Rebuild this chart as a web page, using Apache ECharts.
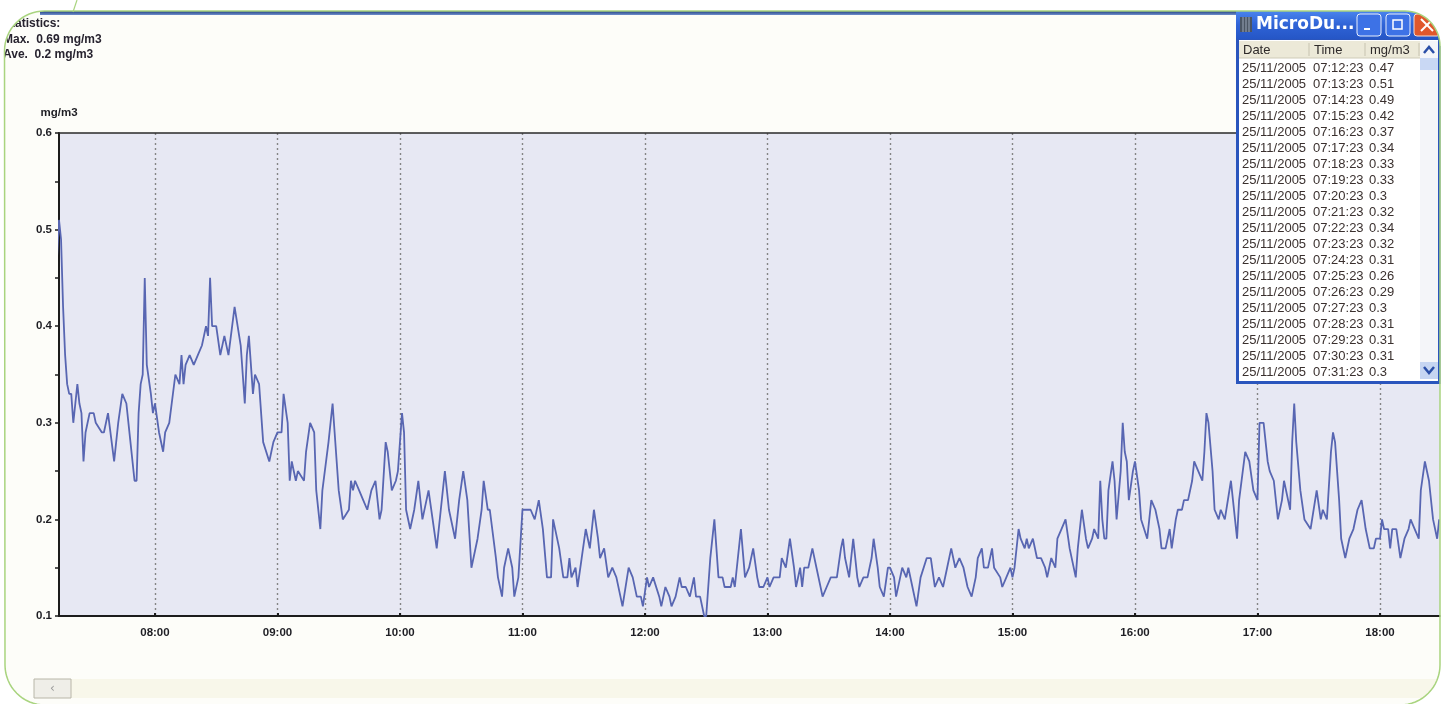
<!DOCTYPE html>
<html><head><meta charset="utf-8">
<script src="https://cdn.jsdelivr.net/npm/echarts@6/dist/echarts.min.js"></script>
<style>html,body{margin:0;padding:0;background:#fff}#c{width:1450px;height:704px}</style>
</head><body><div id="c"></div>
<script>
// ---------- data ----------
const xTickLabels = ['08:00','09:00','10:00','11:00','12:00','13:00','14:00','15:00','16:00','17:00','18:00'];
const yAxisName = 'mg/m3';
const statLines = ['Statistics:', 'Max.  0.69 mg/m3', 'Ave.  0.2 mg/m3'];
const windowTitle = 'MicroDu...';
const tableHeader = ['Date', 'Time', 'mg/m3'];
const tableDate = '25/11/2005';
const tableTimes = ['07:12:23','07:13:23','07:14:23','07:15:23','07:16:23','07:17:23','07:18:23','07:19:23','07:20:23','07:21:23',
  '07:22:23','07:23:23','07:24:23','07:25:23','07:26:23','07:27:23','07:28:23','07:29:23','07:30:23','07:31:23'];
const tableValues = [0.47,0.51,0.49,0.42,0.37,0.34,0.33,0.33,0.3,0.32,0.34,0.32,0.31,0.26,0.29,0.3,0.31,0.31,0.31,0.3];

const seriesTimes = [
 '07:12','07:13','07:14','07:15','07:16','07:17','07:18','07:19','07:20','07:21','07:22','07:23','07:24','07:25','07:26','07:27','07:28','07:29','07:30','07:31',
 '07:34','07:35','07:37','07:40','07:42','07:44','07:46','07:48','07:50','07:51','07:52','07:53','07:54','07:55','07:56','07:58','07:59',
 '08:00','08:02','08:04','08:05','08:07','08:10','08:12','08:13','08:14','08:15','08:17','08:19','08:21','08:23','08:24','08:25','08:26','08:27','08:28','08:29',
 '08:30','08:32','08:34','08:36','08:39','08:42','08:44','08:45','08:46','08:48','08:49','08:51','08:53','08:56','08:58',
 '09:00','09:02','09:03','09:05','09:06','09:07','09:09','09:10','09:13','09:14','09:16','09:18','09:19','09:21','09:22','09:25','09:27','09:28',
 '09:30','09:32','09:35','09:36','09:37','09:38','09:40','09:42','09:44','09:46','09:48','09:50','09:51','09:53','09:54','09:56','09:58','09:59',
 '10:01','10:02','10:03','10:05','10:07','10:09','10:11','10:14','10:16','10:18','10:20','10:22','10:24','10:26','10:27','10:29',
 '10:31','10:33','10:35','10:38','10:40','10:41','10:43','10:44','10:47','10:48','10:50','10:51','10:53','10:55','10:56','10:58',
 '11:00','11:03','11:04','11:06','11:08','11:10','11:12','11:14','11:15','11:18','11:20','11:22','11:23','11:24','11:26','11:27','11:29',
 '11:31','11:33','11:35','11:37','11:38','11:40','11:42','11:44','11:46','11:48','11:49','11:52','11:54','11:56','11:58','11:59',
 '12:01','12:02','12:04','12:07','12:08','12:10','12:12','12:13','12:15','12:17','12:18','12:20','12:22','12:24','12:25','12:27','12:29',
 '12:30','12:32','12:34','12:36','12:38','12:39','12:42','12:43','12:44','12:47','12:49','12:51','12:53','12:55','12:56','12:58',
 '13:00','13:01','13:03','13:06','13:07','13:09','13:11','13:13','13:14','13:16','13:17','13:18','13:20','13:22','13:24','13:27','13:29',
 '13:31','13:34','13:36','13:37','13:38','13:40','13:42','13:44','13:45','13:47','13:49','13:51','13:52','13:54','13:55','13:57','13:59',
 '14:00','14:02','14:03','14:05','14:06','14:08','14:09','14:11','14:13','14:15','14:18','14:20','14:22','14:24','14:26','14:28',
 '14:30','14:32','14:34','14:36','14:38','14:40','14:42','14:43','14:45','14:46','14:48','14:50','14:51','14:54','14:55','14:57','14:59',
 '15:00','15:01','15:03','15:04','15:06','15:07','15:08','15:10','15:12','15:14','15:16','15:17','15:19','15:21','15:22','15:24','15:26','15:28',
 '15:31','15:32','15:34','15:36','15:37','15:39','15:40','15:42','15:43','15:44','15:45','15:46','15:47','15:49','15:50','15:51','15:53','15:54','15:55','15:56','15:57','15:59',
 '16:00','16:02','16:03','16:06','16:08','16:10','16:12','16:13','16:15','16:17','16:18','16:20','16:21','16:23','16:24','16:26','16:28','16:29',
 '16:31','16:33','16:34','16:35','16:36','16:38','16:39','16:41','16:42','16:44','16:47','16:48','16:50','16:51','16:54','16:56','16:58',
 '17:00','17:01','17:03','17:05','17:06','17:08','17:10','17:12','17:13','17:15','17:16','17:17','17:18','17:19','17:21','17:23','17:26','17:29',
 '17:31','17:32','17:34','17:36','17:37','17:38','17:40','17:41','17:43','17:45','17:47','17:49','17:51','17:53','17:55','17:57','17:58',
 '18:00','18:01','18:02','18:04','18:05','18:06','18:08','18:10','18:12','18:14','18:15','18:17','18:19','18:20','18:22','18:24','18:26','18:28','18:29'
];
const seriesValues = [
 0.47,0.51,0.49,0.42,0.37,0.34,0.33,0.33,0.30,0.32,0.34,0.32,0.31,0.26,0.29,0.30,0.31,0.31,0.31,0.30,
 0.29,0.29,0.31,0.26,0.30,0.33,0.32,0.28,0.24,0.24,0.31,0.34,0.35,0.45,0.36,0.33,0.31,
 0.32,0.29,0.27,0.29,0.30,0.35,0.34,0.37,0.34,0.36,0.37,0.36,0.37,0.38,0.39,0.40,0.39,0.45,0.40,0.40,
 0.40,0.37,0.39,0.37,0.42,0.38,0.32,0.37,0.39,0.33,0.35,0.34,0.28,0.26,0.28,
 0.29,0.29,0.33,0.30,0.24,0.26,0.24,0.25,0.24,0.27,0.30,0.29,0.23,0.19,0.23,0.28,0.32,0.29,
 0.23,0.20,0.21,0.24,0.23,0.24,0.23,0.22,0.21,0.23,0.24,0.20,0.21,0.28,0.27,0.23,0.24,0.25,
 0.31,0.29,0.21,0.19,0.21,0.24,0.20,0.23,0.20,0.17,0.21,0.25,0.21,0.19,0.18,0.22,
 0.25,0.22,0.15,0.18,0.21,0.24,0.21,0.21,0.16,0.14,0.12,0.15,0.17,0.15,0.12,0.14,
 0.21,0.21,0.21,0.20,0.22,0.19,0.14,0.14,0.20,0.17,0.14,0.14,0.16,0.14,0.15,0.13,0.16,
 0.19,0.17,0.21,0.18,0.16,0.17,0.14,0.15,0.14,0.12,0.11,0.15,0.14,0.12,0.12,0.11,
 0.14,0.13,0.14,0.12,0.11,0.13,0.12,0.11,0.12,0.14,0.13,0.13,0.12,0.14,0.12,0.12,0.10,
 0.10,0.16,0.20,0.14,0.14,0.13,0.13,0.14,0.13,0.19,0.14,0.15,0.17,0.14,0.13,0.13,
 0.14,0.13,0.14,0.14,0.16,0.15,0.18,0.15,0.13,0.15,0.13,0.15,0.15,0.17,0.15,0.12,0.13,
 0.14,0.14,0.17,0.18,0.16,0.14,0.18,0.14,0.13,0.14,0.14,0.16,0.18,0.15,0.13,0.12,0.15,
 0.15,0.14,0.12,0.14,0.15,0.14,0.15,0.13,0.11,0.14,0.16,0.16,0.13,0.14,0.13,0.15,
 0.17,0.15,0.16,0.15,0.13,0.12,0.14,0.16,0.17,0.15,0.15,0.17,0.15,0.14,0.13,0.14,0.15,
 0.14,0.15,0.19,0.18,0.17,0.18,0.17,0.18,0.16,0.16,0.15,0.14,0.16,0.15,0.18,0.19,0.20,0.17,
 0.14,0.17,0.21,0.18,0.17,0.18,0.19,0.18,0.24,0.20,0.18,0.18,0.23,0.26,0.24,0.20,0.25,0.30,0.27,0.26,0.22,0.25,
 0.26,0.23,0.20,0.18,0.22,0.21,0.19,0.17,0.17,0.19,0.17,0.20,0.21,0.21,0.22,0.22,0.24,0.26,
 0.25,0.24,0.27,0.31,0.30,0.25,0.21,0.20,0.21,0.20,0.24,0.22,0.18,0.22,0.27,0.26,0.23,
 0.22,0.30,0.30,0.26,0.25,0.24,0.20,0.22,0.24,0.22,0.21,0.28,0.32,0.28,0.23,0.20,0.19,0.23,
 0.20,0.21,0.20,0.27,0.29,0.28,0.22,0.18,0.16,0.18,0.19,0.21,0.22,0.19,0.17,0.17,0.18,
 0.18,0.20,0.19,0.19,0.17,0.19,0.19,0.16,0.18,0.19,0.20,0.19,0.18,0.23,0.26,0.24,0.20,0.18,0.20
];

// ---------- build ----------
const toMin = s => { const p = s.split(':').map(Number); return p[0] * 60 + p[1]; };
const xTickValues = xTickLabels.map(toMin);
const lineData = seriesTimes.map((t, i) => [toMin(t), seriesValues[i]]);
const pad2 = n => (n < 10 ? '0' : '') + n;
const fmtMin = v => pad2(Math.floor(v / 60)) + ':' + pad2(Math.round(v % 60));

const LBL = { fontFamily: '"Liberation Sans", Arial, sans-serif', fontWeight: 'bold', fontSize: 11.5, color: '#1e1e24' };
const TFONT = '13px "Liberation Sans", Arial, sans-serif';
const X_MIN = 433, X_MAX = 1109.4;

function arcPts(cx, cy, r, a0, a1) {
  const pts = [], n = 16;
  for (let k = 0; k <= n; k++) { const a = (a0 + (a1 - a0) * k / n) * Math.PI / 180; pts.push([cx + r * Math.cos(a), cy + r * Math.sin(a)]); }
  return pts;
}

const G = [];
statLines.forEach((s, i) => G.push({ type: 'text', x: 3, y: [24, 40, 55][i], z: 20,
  style: { text: s, font: 'bold 12px "Liberation Sans", Arial, sans-serif', fill: '#27232f', textVerticalAlign: 'middle' } }));
// bottom scrollbar
G.push({ type: 'rect', z: 10, shape: { x: 34, y: 679, width: 1406, height: 19 }, style: { fill: '#f8f7ea' } });
G.push({ type: 'rect', z: 11, shape: { x: 34, y: 679, width: 37, height: 19 }, style: { fill: '#efeee8', stroke: '#b8b6a8', lineWidth: 1 } });
G.push({ type: 'text', z: 12, x: 50, y: 689, style: { text: '‹', font: '12px "DejaVu Sans"', fill: '#9a9a9a', textVerticalAlign: 'middle' } });
// top blue bar
G.push({ type: 'rect', z: 30, shape: { x: 40, y: 11, width: 1198, height: 4 },
  style: { fill: new echarts.graphic.LinearGradient(0, 0, 0, 1, [{ offset: 0, color: '#1f3c7e' }, { offset: 1, color: '#6f8fcc' }]) } });
// popup window
const PX = 1236, PY = 11, PW = 205, PH = 373;
G.push({ type: 'rect', z: 40, shape: { x: PX, y: PY, width: PW, height: PH }, style: { fill: '#2a55bd' } });
G.push({ type: 'rect', z: 41, shape: { x: PX, y: PY, width: PW, height: 28 },
  style: { fill: new echarts.graphic.LinearGradient(0, 0, 0, 1, [{ offset: 0, color: '#4a84ee' }, { offset: 0.5, color: '#2f63d6' }, { offset: 1, color: '#2556c6' }]) } });
G.push({ type: 'rect', z: 41, shape: { x: PX + 3, y: 40, width: PW - 6, height: PH - 32 }, style: { fill: '#ffffff' } });
G.push({ type: 'rect', z: 42, shape: { x: 1240, y: 17, width: 12, height: 15 }, style: { fill: '#4b5563' } });
[1243, 1246, 1249].forEach(x => G.push({ type: 'line', z: 43, shape: { x1: x, y1: 17, x2: x, y2: 32 }, style: { stroke: '#9aa6b8', lineWidth: 1 } }));
G.push({ type: 'text', z: 42, x: 1256, y: 25, style: { text: windowTitle, font: 'bold 17px "DejaVu Sans"', fill: '#ffffff', textVerticalAlign: 'middle' } });
G.push({ type: 'rect', z: 42, shape: { x: 1357, y: 14, width: 24, height: 22, r: 3 }, style: { fill: '#3d72e6', stroke: '#e8eefc', lineWidth: 1 } });
G.push({ type: 'line', z: 43, shape: { x1: 1364, y1: 29, x2: 1370, y2: 29 }, style: { stroke: '#ffffff', lineWidth: 2 } });
G.push({ type: 'rect', z: 42, shape: { x: 1386, y: 14, width: 24, height: 22, r: 3 }, style: { fill: '#3d72e6', stroke: '#e8eefc', lineWidth: 1 } });
G.push({ type: 'rect', z: 43, shape: { x: 1393, y: 20, width: 9, height: 9 }, style: { fill: 'none', stroke: '#ffffff', lineWidth: 1.5 } });
G.push({ type: 'rect', z: 42, shape: { x: 1414, y: 14, width: 26, height: 22, r: 3 }, style: { fill: '#e0582c', stroke: '#f4ddd2', lineWidth: 1 } });
G.push({ type: 'line', z: 43, shape: { x1: 1421, y1: 19, x2: 1433, y2: 31 }, style: { stroke: '#ffffff', lineWidth: 2 } });
G.push({ type: 'line', z: 43, shape: { x1: 1433, y1: 19, x2: 1421, y2: 31 }, style: { stroke: '#ffffff', lineWidth: 2 } });
G.push({ type: 'rect', z: 42, shape: { x: 1239, y: 41, width: 181, height: 17 }, style: { fill: '#ece9d8' } });
G.push({ type: 'line', z: 43, shape: { x1: 1239, y1: 58, x2: 1420, y2: 58 }, style: { stroke: '#cfcbb8', lineWidth: 1 } });
[1309, 1365, 1419].forEach(x => G.push({ type: 'line', z: 43, shape: { x1: x, y1: 43, x2: x, y2: 56 }, style: { stroke: '#c7c3b0', lineWidth: 1 } }));
const colX = [1242, 1313, 1369];
colX.forEach((x, i) => G.push({ type: 'text', z: 43, x: x + 1, y: 50, style: { text: tableHeader[i], font: TFONT, fill: '#2e2a2a', textVerticalAlign: 'middle' } }));
tableTimes.forEach((t, i) => {
  const y = 68 + i * 16;
  [tableDate, t, String(tableValues[i])].forEach((s, j) =>
    G.push({ type: 'text', z: 43, x: colX[j], y: y, style: { text: s, font: TFONT, fill: '#3a302e', textVerticalAlign: 'middle' } }));
});
G.push({ type: 'rect', z: 42, shape: { x: 1420, y: 41, width: 18, height: 338 }, style: { fill: '#f4f5f9' } });
G.push({ type: 'rect', z: 43, shape: { x: 1420, y: 58, width: 18, height: 12 }, style: { fill: '#c9d8f4' } });
G.push({ type: 'polyline', z: 44, shape: { points: [[1424, 53], [1429, 47], [1434, 53]] }, style: { stroke: '#2b4fa8', lineWidth: 2.5, fill: null } });
G.push({ type: 'rect', z: 43, shape: { x: 1420, y: 362, width: 18, height: 17 }, style: { fill: '#c6d5f2' } });
G.push({ type: 'polyline', z: 44, shape: { points: [[1424, 367], [1429, 373], [1434, 367]] }, style: { stroke: '#2b4fa8', lineWidth: 2.5, fill: null } });
// outer masks outside the rounded frame
const W = '#ffffff';
G.push({ type: 'rect', z: 50, shape: { x: 0, y: 0, width: 1450, height: 11 }, style: { fill: W } });
G.push({ type: 'rect', z: 50, shape: { x: 0, y: 0, width: 4.5, height: 704 }, style: { fill: W } });
G.push({ type: 'rect', z: 50, shape: { x: 1440.5, y: 0, width: 9.5, height: 704 }, style: { fill: W } });
G.push({ type: 'polygon', z: 50, shape: { points: [[0, 0], [50, 0], [50, 11]].concat(arcPts(44.5, 51, 40, -90, -180), [[0, 51]]) }, style: { fill: W } });
G.push({ type: 'polygon', z: 50, shape: { points: [[1450, 0], [1400, 0], [1400, 11]].concat(arcPts(1405, 46, 35, -90, 0), [[1450, 46]]) }, style: { fill: W } });
G.push({ type: 'polygon', z: 50, shape: { points: [[0, 660], [4.5, 660]].concat(arcPts(45, 665, 40, 180, 90), [[0, 705]]) }, style: { fill: W } });
G.push({ type: 'polygon', z: 50, shape: { points: [[1450, 660], [1440, 660]].concat(arcPts(1400, 665, 40, 0, 90), [[1450, 705]]) }, style: { fill: W } });
const framePts = [].concat(arcPts(44.5, 51, 40, 180, 270), arcPts(1405, 46, 35, 270, 360), arcPts(1400, 665, 40, 0, 90), arcPts(45, 665, 40, 90, 180));
G.push({ type: 'polygon', z: 51, shape: { points: framePts }, style: { fill: null, stroke: '#a9d47f', lineWidth: 1.5 } });
G.push({ type: 'line', z: 51, shape: { x1: 77, y1: 0, x2: 73, y2: 12 }, style: { stroke: '#a9d47f', lineWidth: 1.2 } });

const option = {
  animation: false,
  backgroundColor: '#fdfdf9',
  grid: { left: 59, right: 10, top: 133, bottom: 88, show: true, backgroundColor: '#e7e8f3', borderWidth: 0 },
  xAxis: [{
    type: 'value', min: X_MIN, max: X_MAX,
    axisLine: { show: true, onZero: false, lineStyle: { color: '#1c1c1c', width: 2 } },
    axisTick: { show: true, customValues: xTickValues, inside: true, length: 3, lineStyle: { color: '#1c1c1c', width: 2 } },
    axisLabel: { customValues: xTickValues, formatter: v => fmtMin(v), margin: 11, ...LBL },
    splitLine: { show: true, lineStyle: { color: '#858585', type: [2, 3], width: 1.4 } }
  }, {
    type: 'value', position: 'top', min: X_MIN, max: X_MAX,
    axisLine: { show: true, onZero: false, lineStyle: { color: '#2a2a2a', width: 1.5 } },
    axisTick: { show: false }, axisLabel: { show: false }, splitLine: { show: false }
  }],
  yAxis: {
    type: 'value', min: 0.1, max: 0.6, interval: 0.1,
    name: yAxisName, nameLocation: 'end', nameGap: 20,
    nameTextStyle: { ...LBL, align: 'center', verticalAlign: 'middle' },
    axisLine: { show: true, onZero: false, lineStyle: { color: '#1c1c1c', width: 2 } },
    axisTick: { show: true, length: 4, lineStyle: { color: '#1c1c1c', width: 1.5 } },
    minorTick: { show: true, splitNumber: 2, length: 4, lineStyle: { color: '#1c1c1c', width: 1.5 } },
    axisLabel: { formatter: v => v.toFixed(1), margin: 7, ...LBL },
    splitLine: { show: false }
  },
  series: [{
    type: 'line', xAxisIndex: 0, data: lineData, showSymbol: false, symbol: 'none', clip: true,
    lineStyle: { color: '#5866b2', width: 1.8 }
  }],
  graphic: { elements: G }
};
echarts.init(document.getElementById('c'), null, { renderer: 'canvas' }).setOption(option);
</script></body></html>
